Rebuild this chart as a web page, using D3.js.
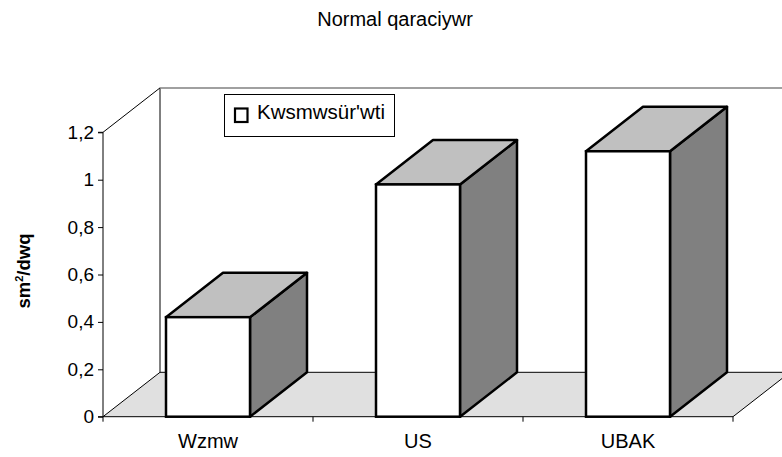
<!DOCTYPE html>
<html>
<head>
<meta charset="utf-8">
<script src="https://cdn.jsdelivr.net/npm/d3@7"></script>
<style>
  html, body { margin: 0; padding: 0; background: #fff; }
  svg { display: block; font-family: "Liberation Sans", Arial, sans-serif; }
</style>
</head>
<body>
<svg id="chart" width="782" height="457"></svg>
<script>
const categories = ["Wzmw", "US", "UBAK"];
const values = [0.42, 0.98, 1.12];
const yTicks = [0, 0.2, 0.4, 0.6, 0.8, 1, 1.2];
const seriesName = "Kwsmwsür'wti";
const chartTitle = "Normal qaraciywr";
const yTitleBase = "sm";

(function () {
const svg = d3.select("#chart");
const W = 782, H = 457;
const pLeft = 103, pRight = 733, pBottom = 416.7, pTop = 132.3;
const dx = 57, dy = -44.4;

const x = d3.scaleBand().domain(categories).range([pLeft, pRight]).padding(0);
const y = d3.scaleLinear().domain([0, 1.2]).range([pBottom, pTop]);
const barW = x.bandwidth() * 0.4;

svg.append("defs").append("clipPath").attr("id", "clip")
  .append("rect").attr("x", 0).attr("y", 0).attr("width", W).attr("height", H);

const g = svg.append("g").attr("clip-path", "url(#clip)");

// floor
g.append("path")
  .attr("d", `M${pLeft},${y(0)} L${pRight},${y(0)} L${pRight+dx},${y(0)+dy} L${pLeft+dx},${y(0)+dy} Z`)
  .attr("fill", "#e0e0e0").attr("stroke", "#000").attr("stroke-width", 1);
// left wall top diagonal and back vertical
g.append("line").attr("x1", pLeft).attr("y1", y(1.2)).attr("x2", pLeft+dx).attr("y2", y(1.2)+dy)
  .attr("stroke", "#000").attr("stroke-width", 1);
g.append("line").attr("x1", pLeft+dx).attr("y1", y(1.2)+dy).attr("x2", pLeft+dx).attr("y2", y(0)+dy)
  .attr("stroke", "#000").attr("stroke-width", 1);
// back wall top
g.append("line").attr("x1", pLeft+dx).attr("y1", y(1.2)+dy).attr("x2", pRight+dx).attr("y2", y(1.2)+dy)
  .attr("stroke", "#808080").attr("stroke-width", 1.5);

// Y axis
const yAxis = d3.axisLeft(y).tickValues(yTicks).tickSize(5).tickPadding(4)
  .tickFormat(d => String(d).replace(".", ","));
const ya = svg.append("g").attr("transform", `translate(${pLeft},0)`).call(yAxis);
ya.select(".domain").attr("stroke", "#000").attr("d", `M-5,${y(1.2)}H0V${y(0)}H-5`);
ya.selectAll("text").attr("font-size", 19).attr("fill", "#000")
  .attr("font-family", "'Liberation Sans', Arial, sans-serif");

// X axis
const xAxis = d3.axisBottom(x).tickSize(0).tickPadding(0);
const xa = svg.append("g").attr("transform", `translate(0,${pBottom})`).call(xAxis);
xa.select(".domain").remove();
xa.selectAll("text").attr("font-size", 20).attr("fill", "#000").attr("dy", 0).attr("y", 31)
  .attr("font-family", "'Liberation Sans', Arial, sans-serif");
const bounds = categories.map(c => x(c)).concat([x(categories[categories.length-1]) + x.bandwidth()]);
svg.append("g").selectAll("line").data(bounds).join("line")
  .attr("x1", d => d).attr("x2", d => d).attr("y1", pBottom).attr("y2", pBottom + 5)
  .attr("stroke", "#000").attr("stroke-width", 1);

// bars
const bars = g.append("g").selectAll("g").data(categories.map((c, i) => ({c, v: values[i]}))).join("g");
bars.each(function(d) {
  const gb = d3.select(this);
  const x0 = x(d.c) + (x.bandwidth() - barW) / 2, x1 = x0 + barW;
  const yt = y(d.v), yb = y(0);
  gb.append("path")
    .attr("d", `M${x1},${yb} L${x1},${yt} L${x1+dx},${yt+dy} L${x1+dx},${yb+dy} Z`)
    .attr("fill", "#808080").attr("stroke", "#000").attr("stroke-width", 2.5).attr("stroke-linejoin", "round");
  gb.append("path")
    .attr("d", `M${x0},${yt} L${x1},${yt} L${x1+dx},${yt+dy} L${x0+dx},${yt+dy} Z`)
    .attr("fill", "#c0c0c0").attr("stroke", "#000").attr("stroke-width", 2.5).attr("stroke-linejoin", "round");
  gb.append("rect")
    .attr("x", x0).attr("y", yt).attr("width", barW).attr("height", yb - yt)
    .attr("fill", "#fff").attr("stroke", "#000").attr("stroke-width", 2.5);
});

// Legend
const lg = svg.append("g");
lg.append("rect").attr("x", 224.5).attr("y", 94.5).attr("width", 170).attr("height", 42)
  .attr("fill", "#fff").attr("stroke", "#000").attr("stroke-width", 1);
lg.append("rect").attr("x", 235).attr("y", 108.5).attr("width", 12.5).attr("height", 13.5)
  .attr("fill", "#fff").attr("stroke", "#000").attr("stroke-width", 2.2);
lg.append("text").attr("x", 257).attr("y", 118.5).attr("font-size", 20.5)
  .attr("fill", "#000").text(seriesName);

// Title
svg.append("text").attr("x", 395).attr("y", 25.5).attr("text-anchor", "middle")
  .attr("font-size", 20).attr("fill", "#000").text(chartTitle);

// Y title
const ytt = svg.append("text").attr("transform", "translate(30,271) rotate(-90)")
  .attr("text-anchor", "middle").attr("font-size", 18.5).attr("font-weight", "bold").attr("fill", "#000");
ytt.append("tspan").text(yTitleBase);
ytt.append("tspan").attr("font-size", 11).attr("dy", -7).text("2");
ytt.append("tspan").attr("dy", 7).text("/dwq");
})();
</script>
</body>
</html>
